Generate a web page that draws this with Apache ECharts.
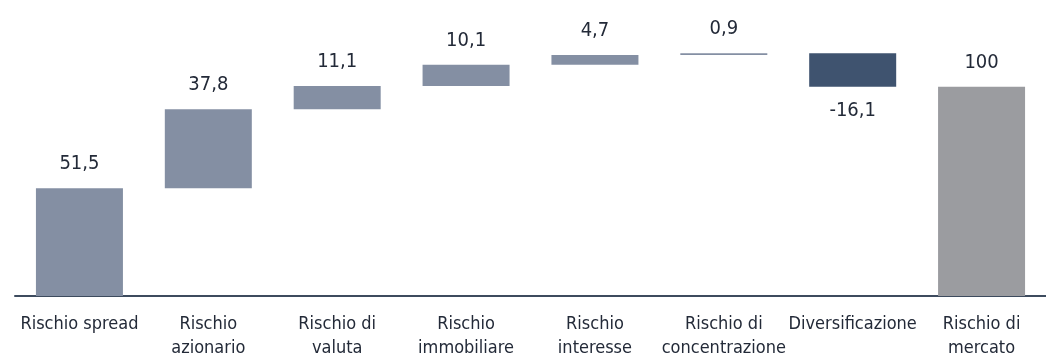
<!DOCTYPE html>
<html>
<head>
<meta charset="utf-8">
<script src="https://cdn.jsdelivr.net/npm/echarts@6/dist/echarts.min.js"></script>
<style>html,body{margin:0;padding:0;background:#fff}#c{width:1046px;height:360px}</style>
</head>
<body>
<div id="c"></div>
<script>
const categories = ['Rischio spread', 'Rischio\nazionario', 'Rischio di\nvaluta', 'Rischio\nimmobiliare', 'Rischio\ninteresse', 'Rischio di\nconcentrazione', 'Diversificazione', 'Rischio di\nmercato'];
const steps = [51.5, 37.8, 11.1, 10.1, 4.7, 0.9, -16.1];
const total = 100;

const fmt = v => String(v).replace('.', ',');
const COL_POS = '#848fa3', COL_NEG = '#3f536f', COL_TOT = '#9b9ca0';
const FONT = "'DejaVu Sans Condensed', Roboto, sans-serif";

const base = [], vis = [];
let cum = 0;
steps.forEach(v => {
  if (v >= 0) {
    base.push(cum);
    vis.push({value: v, raw: v, itemStyle: {color: COL_POS}, label: {position: 'top'}});
  } else {
    base.push(cum + v);
    vis.push({value: -v, raw: v, itemStyle: {color: COL_NEG}, label: {position: 'bottom'}});
  }
  cum += v;
});
base.push(0);
vis.push({value: total, raw: total, itemStyle: {color: COL_TOT}, label: {position: 'top'}});

const chart = echarts.init(document.getElementById('c'));
chart.setOption({
  animation: false,
  grid: {left: 15, right: -12, top: 45, bottom: 64},
  xAxis: {
    type: 'category',
    data: categories,
    axisTick: {show: false},
    axisLine: {lineStyle: {color: '#3d4b5e', width: 2}},
    axisLabel: {
      interval: 0, margin: 16, lineHeight: 24,
      fontFamily: FONT, fontSize: 18, color: '#232a38'
    }
  },
  yAxis: {type: 'value', min: 0, max: 120, show: false},
  series: [
    {type: 'bar', stack: 'w', data: base, barWidth: 87,
     itemStyle: {color: 'transparent'}, silent: true},
    {type: 'bar', stack: 'w', data: vis, barWidth: 87,
     label: {show: true, distance: 14, fontFamily: FONT, fontSize: 20, color: '#232a38',
       formatter: p => fmt(p.data.raw)}}
  ]
});
</script>
</body>
</html>
